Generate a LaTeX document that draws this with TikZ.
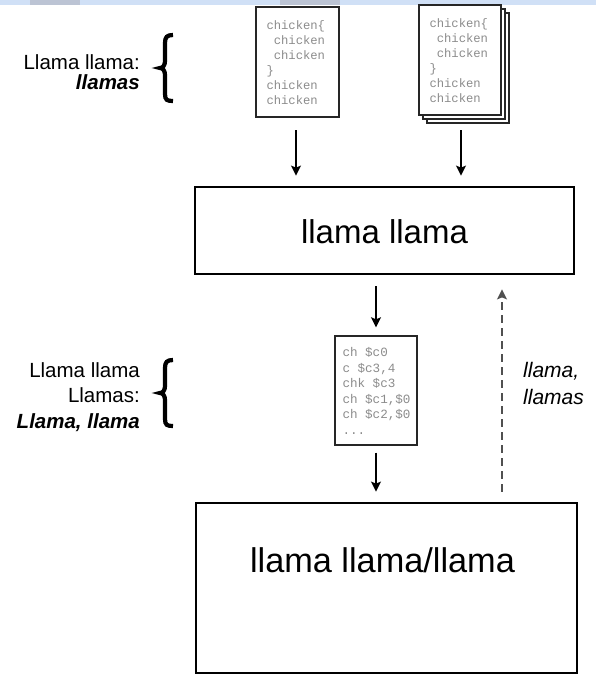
\documentclass[tikz,border=0pt]{standalone}
\usepackage{fontspec}
\setmainfont{Liberation Sans}
\newfontfamily\codefont{Liberation Mono}
\usetikzlibrary{arrows.meta,calc}
\definecolor{stripblue}{RGB}{208,224,246}
\definecolor{stripgray}{RGB}{175,178,190}
\definecolor{codegray}{RGB}{140,140,140}
\definecolor{dashgray}{RGB}{80,80,80}
\tikzset{
  docbox/.style={draw=black!85, line width=1.4pt, fill=white, inner sep=0pt,
     minimum width=83pt, minimum height=110pt},
  doctext/.style={anchor=west, align=left, inner sep=0pt, text=codegray,
     font=\codefont\fontsize{12.2pt}{15pt}\selectfont},
  codetext/.style={anchor=west, align=left, inner sep=0pt, text=codegray,
     font=\codefont\fontsize{12.6pt}{15.5pt}\selectfont},
  mainbox/.style={draw=black, line width=2.8pt, inner sep=0pt},
  bigtext/.style={font=\fontsize{33}{38}\selectfont},
  sidelabel/.style={align=right, anchor=east, inner sep=0pt},
  flow/.style={line width=1.4pt, -{Stealth[length=10pt,width=10pt,inset=2pt]}},
  feedback/.style={line width=1.4pt, draw=dashgray, dash pattern=on 8pt off 5pt,
     -{Stealth[length=10pt,width=10pt,inset=2pt]}},
  bracefig/.style={line width=4.2pt, line cap=butt},
}
\begin{document}
\begin{tikzpicture}[x=1pt,y=-1pt]
\useasboundingbox (0,0) rectangle (596,682);
\fill[stripblue] (0,0) rectangle (596,5);
\fill[stripgray, opacity=0.6] (30,0) rectangle (80,5);
\fill[stripgray, opacity=0.6] (280,0) rectangle (340,5);
% source documents
\node[docbox] (d1) at (297.5,62) {};
\node[doctext] (d1t) at ($(d1.west)+(11,1)$) {chicken\{\\\ chicken\\\ chicken\\\}\\chicken\\chicken};
\node[docbox, minimum width=82pt] (d2c) at (468,68) {};
\node[docbox, minimum width=82pt] (d2b) at (464,64) {};
\node[docbox, minimum width=82pt] (d2) at (460,60) {};
\node[doctext] (d2t) at ($(d2.west)+(11,1)$) {chicken\{\\\ chicken\\\ chicken\\\}\\chicken\\chicken};
% main boxes
\node[mainbox, minimum width=379pt, minimum height=87pt] (b1) at (384.5,230.5) {};
\node[bigtext] (b1t) at (384.5,232) {llama llama};
\node[docbox, minimum width=82pt, minimum height=109pt] (c) at (376,390.5) {};
\node[codetext] (ct) at ($(c.west)+(8,0.5)$) {ch \$c0\\c \$c3,4\\chk \$c3\\ch \$c1,\$0\\ch \$c2,\$0\\...};
\node[mainbox, minimum width=381pt, minimum height=170pt] (b2) at (386.5,588) {};
\node[bigtext, font=\fontsize{34.3}{38}\selectfont] (b2t) at (382.5,560) {llama llama/llama};
% side labels
\node[sidelabel, font=\fontsize{20.5}{20}\selectfont] (l1) at (140,72) {Llama llama:\\\textbf{\textit{llamas}}};
\node[sidelabel, font=\fontsize{20.5}{25.5}\selectfont] (l2) at (140,397) {Llama llama\\Llamas:\\\textbf{\textit{Llama, llama}}};
\node[anchor=west, align=left, inner sep=0pt, font=\fontsize{21}{27}\selectfont\itshape] (fl) at (523,383) {llama,\\llamas};
% braces
\draw[bracefig] (173,35) .. controls (167,35) and (165,37) .. (165,43) -- (165,61)
   .. controls (165,65) and (163,68) .. (160,68) .. controls (163,68) and (165,71) .. (165,75)
   -- (165,94) .. controls (165,100) and (167,101) .. (173,101);
\draw[bracefig] (173,360) .. controls (167,360) and (165,362) .. (165,368) -- (165,386)
   .. controls (165,390) and (163,393) .. (160,393) .. controls (163,393) and (165,396) .. (165,400)
   -- (165,419) .. controls (165,425) and (167,426) .. (173,426);
% connectors
\coordinate (a1s) at (296,130);
\coordinate (a2s) at (461,130);
\draw[flow, shorten >=10pt] (a1s) -- (a1s |- b1.north);
\draw[flow, shorten >=10pt] (a2s) -- (a2s |- b1.north);
\draw[flow, shorten <=11pt, shorten >=8pt] (b1.south -| c.north) -- (c.north);
\draw[flow, shorten <=7pt, shorten >=10pt] (c.south) -- (c.south |- b2.north);
\coordinate (fx) at (502,0);
\draw[feedback, shorten <=10pt, shorten >=14pt] (fx |- b2.north) -- (fx |- b1.south);
\end{tikzpicture}
\end{document}
